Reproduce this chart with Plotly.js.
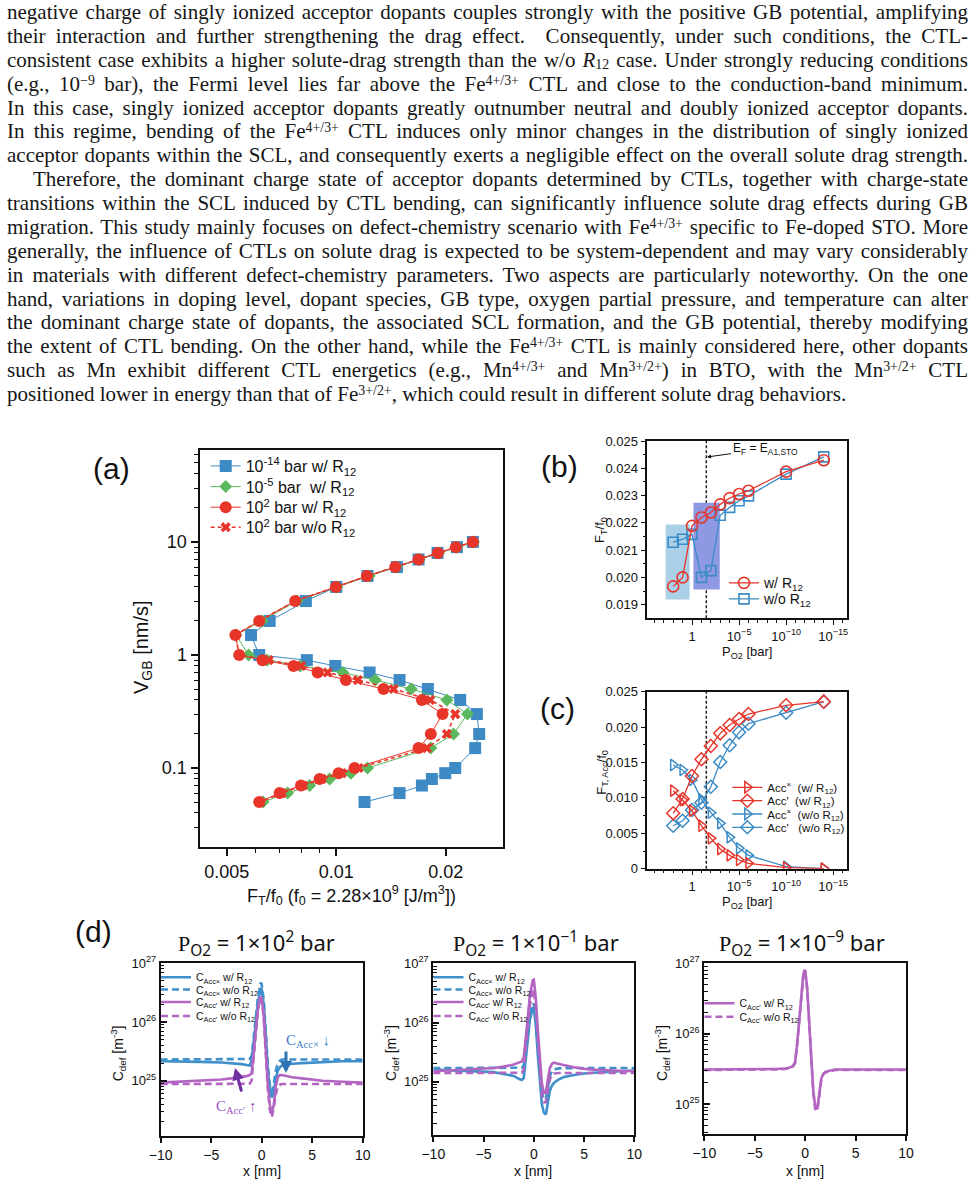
<!DOCTYPE html>
<html><head><meta charset="utf-8">
<script src="https://cdn.plot.ly/plotly-3.0.1.min.js"></script>
<style>
html,body{margin:0;padding:0;background:#fff;}
#wrap{position:relative;width:976px;height:1182px;overflow:hidden;background:#fff;}
#chart{position:absolute;left:0;top:0;width:976px;height:1182px;}
#text{position:absolute;left:7px;top:1px;width:961px;font-family:'Liberation Serif','Times New Roman',serif;font-size:21px;color:#161616;z-index:5;pointer-events:none;}
.ln{height:23.88px;line-height:23.88px;text-align:justify;text-align-last:justify;overflow:visible;}
.last{text-align-last:left;}
.ind{padding-left:26px;}
sup,sub{font-size:66%;line-height:0;}
sup{vertical-align:0.42em;}
sub{vertical-align:-0.14em;}
</style></head>
<body><div id="wrap">
<div id="chart"></div>
<div id="text">
<div class="ln">negative charge of singly ionized acceptor dopants couples strongly with the positive GB potential, amplifying</div>
<div class="ln">their interaction and further strengthening the drag effect. &nbsp;Consequently, under such conditions, the CTL-</div>
<div class="ln">consistent case exhibits a higher solute-drag strength than the w/o <i>R</i><sub>12</sub> case. Under strongly reducing conditions</div>
<div class="ln">(e.g., 10<sup>−9</sup> bar), the Fermi level lies far above the Fe<sup>4+/3+</sup> CTL and close to the conduction-band minimum.</div>
<div class="ln">In this case, singly ionized acceptor dopants greatly outnumber neutral and doubly ionized acceptor dopants.</div>
<div class="ln">In this regime, bending of the Fe<sup>4+/3+</sup> CTL induces only minor changes in the distribution of singly ionized</div>
<div class="ln">acceptor dopants within the SCL, and consequently exerts a negligible effect on the overall solute drag strength.</div>
<div class="ln ind">Therefore, the dominant charge state of acceptor dopants determined by CTLs, together with charge-state</div>
<div class="ln">transitions within the SCL induced by CTL bending, can significantly influence solute drag effects during GB</div>
<div class="ln">migration. This study mainly focuses on defect-chemistry scenario with Fe<sup>4+/3+</sup> specific to Fe-doped STO. More</div>
<div class="ln">generally, the influence of CTLs on solute drag is expected to be system-dependent and may vary considerably</div>
<div class="ln">in materials with different defect-chemistry parameters. Two aspects are particularly noteworthy. On the one</div>
<div class="ln">hand, variations in doping level, dopant species, GB type, oxygen partial pressure, and temperature can alter</div>
<div class="ln">the dominant charge state of dopants, the associated SCL formation, and the GB potential, thereby modifying</div>
<div class="ln">the extent of CTL bending. On the other hand, while the Fe<sup>4+/3+</sup> CTL is mainly considered here, other dopants</div>
<div class="ln">such as Mn exhibit different CTL energetics (e.g., Mn<sup>4+/3+</sup> and Mn<sup>3+/2+</sup>) in BTO, with the Mn<sup>3+/2+</sup> CTL</div>
<div class="ln last">positioned lower in energy than that of Fe<sup>3+/2+</sup>, which could result in different solute drag behaviors.</div>
</div>
</div>
<script>
// ---------------- DATA ----------------
// Panel (a): grain boundary velocity vs drag force
const vGB = [10,9,8,7,6,5,4,3,2,1.5,1,0.9,0.8,0.7,0.6,0.5,0.4,0.3,0.2,0.15,0.1,0.09,0.08,0.07,0.06,0.05];
const fBlue_m14 = [0.02375,0.02147,0.01899,0.01684,0.01468,0.01219,0.0100,0.00825,0.00656,0.00583,0.00614,0.0083,0.00994,0.01235,0.01493,0.01786,0.02192,0.02436,0.02472,0.0241,0.02124,0.01994,0.01832,0.0172,0.01493,0.01196];
const fGreen_m5 = [0.02385,0.02147,0.01911,0.01691,0.01459,0.01232,0.01004,0.0078,0.00625,0.0053,0.00574,0.00645,0.00796,0.01043,0.0128,0.01607,0.02015,0.02296,0.02101,0.0182,0.01219,0.01097,0.00959,0.00845,0.00735,0.00629];
const fRed_p2_w = [0.02375,0.02133,0.01903,0.01684,0.01453,0.01214,0.00998,0.00771,0.00614,0.00528,0.00541,0.00627,0.00763,0.00889,0.01063,0.01349,0.0172,0.0196,0.0182,0.01684,0.01123,0.01015,0.009,0.008,0.00699,0.00614];
const fRed_p2_wo = [0.02375,0.02133,0.01903,0.01684,0.01453,0.01214,0.00998,0.00771,0.00614,0.00528,0.00541,0.00652,0.00801,0.00947,0.01147,0.01438,0.01813,0.02124,0.02015,0.01775,0.01152,0.01036,0.00913,0.0081,0.00709,0.00618];

// Panels (b),(c): log10 of oxygen partial pressure [bar]
const logPO2 = [2,1,0,-1,-2,-3,-4,-5,-6,-10,-14];
const fT_w  = [0.01967,0.0200,0.02189,0.0222,0.02238,0.02268,0.02291,0.02306,0.02318,0.02388,0.0243];
const fT_wo = [0.02129,0.0214,0.02158,0.0200,0.02025,0.02228,0.02257,0.02281,0.02299,0.02379,0.02442];
const accX_w  = [0.01102,0.0097,0.00819,0.00607,0.00429,0.00278,0.00189,0.00123,0.00076,0.00014,0.00002];
const accP_w  = [0.00782,0.00984,0.01309,0.01545,0.01733,0.01912,0.0203,0.02114,0.02185,0.02308,0.02359];
const accX_wo = [0.01465,0.01394,0.01253,0.0098,0.00791,0.00641,0.00443,0.00288,0.00189,0.00028,0.0];
const accP_wo = [0.00607,0.00678,0.00829,0.00932,0.01158,0.01507,0.01743,0.01926,0.02048,0.02203,0.02359];
const tickP = ['1','10<sup>−5</sup>','10<sup>−10</sup>','10<sup>−15</sup>'];

// Panel (d): concentration profiles
const xNm = [-10,-8,-6,-4,-3,-2,-1.5,-1.2,-1,-0.8,-0.6,-0.4,-0.2,-0.1,0,0.2,0.4,0.6,0.8,1,1.2,1.4,1.6,1.8,2,2.5,3,4,5,6,8,10];
const d1_accX_w  = [2.15e25,2.15e25,2.1e25,2.05e25,2.0e25,1.92e25,1.85e25,1.82e25,2.2e25,4e25,9e25,2.0e26,3.5e26,3.8e26,3.6e26,2.0e26,6e25,1.6e25,7e24,5.2e24,6.5e24,1.1e25,1.5e25,1.7e25,1.8e25,1.9e25,1.95e25,2.0e25,2.05e25,2.1e25,2.15e25,2.15e25];
const d1_accX_wo = [2.3e25,2.3e25,2.3e25,2.3e25,2.3e25,2.3e25,2.3e25,2.35e25,2.6e25,5e25,1.1e26,2.4e26,4.3e26,4.7e26,4.4e26,2.4e26,7e25,1.9e25,8.5e24,6.5e24,9e24,1.5e25,2.0e25,2.2e25,2.3e25,2.3e25,2.3e25,2.3e25,2.3e25,2.3e25,2.3e25,2.3e25];
const d1_accP_w  = [9.3e24,9.6e24,1.0e25,1.05e25,1.1e25,1.15e25,1.2e25,1.25e25,1.35e25,3e25,7e25,1.5e26,2.5e26,2.7e26,2.5e26,1.3e26,3.5e25,9e24,4e24,2.8e24,4e24,8e24,1.15e25,1.25e25,1.25e25,1.2e25,1.15e25,1.1e25,1.05e25,1.0e25,9.6e24,9.3e24];
const d1_accP_wo = [8.8e24,8.8e24,8.8e24,8.8e24,8.8e24,8.8e24,8.8e24,8.9e24,1.0e25,2.5e25,6.5e25,1.4e26,2.4e26,2.6e26,2.4e26,1.2e26,3e25,7.5e24,3.2e24,2.4e24,3.5e24,6e24,8e24,8.6e24,8.8e24,8.8e24,8.8e24,8.8e24,8.8e24,8.8e24,8.8e24,8.8e24];
const d2_accX_w  = [1.6e25,1.55e25,1.5e25,1.45e25,1.35e25,1.25e25,1.12e25,1.07e25,1.15e25,2.2e25,5e25,1.1e26,1.6e26,1.75e26,1.8e26,9e25,2.8e25,9e24,4.2e24,3e24,2.8e24,4.5e24,7e24,8.5e24,9.5e24,1.1e25,1.2e25,1.3e25,1.38e25,1.42e25,1.5e25,1.55e25];
const d2_accX_wo = [1.7e25,1.7e25,1.7e25,1.7e25,1.7e25,1.7e25,1.7e25,1.72e25,1.9e25,3.5e25,7e25,1.3e26,1.9e26,2.05e26,2.1e26,1.1e26,4e25,1.4e25,7e24,5e24,5e24,8e24,1.25e25,1.5e25,1.62e25,1.68e25,1.7e25,1.7e25,1.7e25,1.7e25,1.7e25,1.7e25];
const d2_accP_w  = [1.5e25,1.55e25,1.6e25,1.7e25,1.8e25,1.95e25,2.1e25,2.2e25,2.6e25,5e25,1.2e26,2.8e26,4.6e26,5.2e26,5.3e26,2.6e26,7.5e25,2.2e25,9.5e24,6.5e24,6.5e24,1.1e25,1.7e25,2.0e25,2.1e25,2.0e25,1.9e25,1.75e25,1.65e25,1.6e25,1.55e25,1.5e25];
const d2_accP_wo = [1.4e25,1.4e25,1.4e25,1.4e25,1.4e25,1.4e25,1.4e25,1.42e25,1.6e25,3.2e25,8e25,1.9e26,3.2e26,3.5e26,3.6e26,1.8e26,5e25,1.4e25,6e24,4.5e24,4.5e24,7e24,1.1e25,1.3e25,1.38e25,1.4e25,1.4e25,1.4e25,1.4e25,1.4e25,1.4e25,1.4e25];
const d3_accP_w  = [3.1e25,3.1e25,3.1e25,3.1e25,3.15e25,3.2e25,3.3e25,3.5e25,3.9e25,7e25,1.6e26,3.6e26,6.5e26,7.8e26,8.0e26,4.5e26,1.5e26,4.5e25,1.6e25,9e24,8.5e24,1.4e25,2.3e25,2.7e25,2.85e25,3.0e25,3.1e25,3.1e25,3.1e25,3.1e25,3.1e25,3.1e25];
const d3_accP_wo = [3.05e25,3.05e25,3.05e25,3.05e25,3.1e25,3.15e25,3.25e25,3.45e25,3.8e25,6.8e25,1.55e26,3.5e26,6.3e26,7.6e26,7.8e26,4.3e26,1.45e26,4.3e25,1.5e25,8.5e24,8e24,1.3e25,2.2e25,2.65e25,2.8e25,2.95e25,3.05e25,3.05e25,3.05e25,3.05e25,3.05e25,3.05e25];

// ---------------- STYLE / LAYOUT ----------------
const W = 976, H = 1182;
const px = v => v / W, py = v => 1 - v / H;
const FONT = 'Liberation Sans, Arial, Helvetica, sans-serif';
const SERIF = 'Liberation Serif, DejaVu Serif, serif';
const BLUE_A = '#3d8ac4', GREEN_A = '#5cb85c', RED = '#e8352a', BLUE = '#3b8bc6';
const DBLUE = '#3f8fca', PURP = '#b266c2';

function minorLog(lo, hi){ const a=[]; for(let d=lo; d<=hi; d++){ for(let k=2;k<=9;k++) a.push(k*Math.pow(10,d)); } return a; }

function baseAxis(extra){
  return Object.assign({showline:true, linecolor:'#111', mirror:true, showgrid:false, zeroline:false,
    tickcolor:'#111', ticks:'outside'}, extra);
}

function leg(cx, cy, size){
  return {x:px(cx-21), y:py(cy), xanchor:'left', yanchor:'middle', bgcolor:'rgba(0,0,0,0)', borderwidth:0,
    font:{family:FONT, size:size, color:'#111'}, itemwidth:30};
}

const traces = [
  // (a)
  {x:fBlue_m14, y:vGB, xaxis:'x', yaxis:'y', mode:'lines+markers', name:'10<sup>-14</sup> bar w/ R<sub>12</sub>', legend:'legend',
   line:{color:BLUE_A, width:1}, marker:{symbol:'square', size:12, color:BLUE_A}},
  {x:fGreen_m5, y:vGB, xaxis:'x', yaxis:'y', mode:'lines+markers', name:'10<sup>-5</sup> bar  w/ R<sub>12</sub>', legend:'legend2',
   line:{color:GREEN_A, width:1}, marker:{symbol:'diamond', size:10, color:GREEN_A}},
  {x:fRed_p2_wo, y:vGB, xaxis:'x', yaxis:'y', mode:'lines+markers', name:'10<sup>2</sup> bar w/o R<sub>12</sub>', legend:'legend4',
   line:{color:RED, width:1.6, dash:'4px,3px'}, marker:{symbol:'x', size:9, color:RED}},
  {x:fRed_p2_w, y:vGB, xaxis:'x', yaxis:'y', mode:'lines+markers', name:'10<sup>2</sup> bar w/ R<sub>12</sub>', legend:'legend3',
   line:{color:RED, width:1}, marker:{symbol:'circle', size:12, color:RED}},
  // (b)
  {x:logPO2, y:fT_wo, xaxis:'x2', yaxis:'y2', mode:'lines+markers', name:'w/o R<sub>12</sub>', legend:'legend6',
   line:{color:BLUE, width:1.3}, marker:{symbol:'square-open', size:10, color:BLUE, line:{width:1.6}}},
  {x:logPO2, y:fT_w, xaxis:'x2', yaxis:'y2', mode:'lines+markers', name:'w/ R<sub>12</sub>', legend:'legend5',
   line:{color:RED, width:1.3}, marker:{symbol:'circle-open', size:11, color:RED, line:{width:1.6}}},
  // (c)
  {x:logPO2, y:accX_wo, xaxis:'x3', yaxis:'y3', mode:'lines+markers', name:'Acc<sup>×</sup>  (w/o R<sub>12</sub>)', legend:'legend9',
   line:{color:BLUE, width:1.3}, marker:{symbol:'triangle-right-open', size:10, color:BLUE, line:{width:1.5}}},
  {x:logPO2, y:accP_wo, xaxis:'x3', yaxis:'y3', mode:'lines+markers', name:'Acc\'   (w/o R<sub>12</sub>)', legend:'legend10',
   line:{color:BLUE, width:1.3}, marker:{symbol:'diamond-open', size:10, color:BLUE, line:{width:1.5}}},
  {x:logPO2, y:accX_w, xaxis:'x3', yaxis:'y3', mode:'lines+markers', name:'Acc<sup>×</sup>  (w/ R<sub>12</sub>)', legend:'legend7',
   line:{color:RED, width:1.3}, marker:{symbol:'triangle-right-open', size:10, color:RED, line:{width:1.5}}},
  {x:logPO2, y:accP_w, xaxis:'x3', yaxis:'y3', mode:'lines+markers', name:'Acc\'  (w/ R<sub>12</sub>)', legend:'legend8',
   line:{color:RED, width:1.3}, marker:{symbol:'diamond-open', size:10, color:RED, line:{width:1.5}}},
  // (d1)
  {x:xNm, y:d1_accX_w, xaxis:'x4', yaxis:'y4', mode:'lines', name:'C<sub>Acc×</sub> w/ R<sub>12</sub>', legend:'legend11', line:{color:DBLUE, width:2.6}},
  {x:xNm, y:d1_accX_wo, xaxis:'x4', yaxis:'y4', mode:'lines', name:'C<sub>Acc×</sub> w/o R<sub>12</sub>', legend:'legend12', line:{color:DBLUE, width:2.6, dash:'7px,4px'}},
  {x:xNm, y:d1_accP_w, xaxis:'x4', yaxis:'y4', mode:'lines', name:'C<sub>Acc′</sub> w/ R<sub>12</sub>', legend:'legend13', line:{color:PURP, width:2.6}},
  {x:xNm, y:d1_accP_wo, xaxis:'x4', yaxis:'y4', mode:'lines', name:'C<sub>Acc′</sub> w/o R<sub>12</sub>', legend:'legend14', line:{color:PURP, width:2.6, dash:'7px,4px'}},
  // (d2)
  {x:xNm, y:d2_accX_w, xaxis:'x5', yaxis:'y5', mode:'lines', name:'C<sub>Acc×</sub> w/ R<sub>12</sub>', legend:'legend15', line:{color:DBLUE, width:2.6}},
  {x:xNm, y:d2_accX_wo, xaxis:'x5', yaxis:'y5', mode:'lines', name:'C<sub>Acc×</sub> w/o R<sub>12</sub>', legend:'legend16', line:{color:DBLUE, width:2.6, dash:'7px,4px'}},
  {x:xNm, y:d2_accP_w, xaxis:'x5', yaxis:'y5', mode:'lines', name:'C<sub>Acc′</sub> w/ R<sub>12</sub>', legend:'legend17', line:{color:PURP, width:2.6}},
  {x:xNm, y:d2_accP_wo, xaxis:'x5', yaxis:'y5', mode:'lines', name:'C<sub>Acc′</sub> w/o R<sub>12</sub>', legend:'legend18', line:{color:PURP, width:2.6, dash:'7px,4px'}},
  // (d3)
  {x:xNm, y:d3_accP_w, xaxis:'x6', yaxis:'y6', mode:'lines', name:'C<sub>Acc′</sub> w/ R<sub>12</sub>', legend:'legend19', line:{color:PURP, width:2.6}},
  {x:xNm, y:d3_accP_wo, xaxis:'x6', yaxis:'y6', mode:'lines', name:'C<sub>Acc′</sub> w/o R<sub>12</sub>', legend:'legend20', line:{color:PURP, width:2.6, dash:'7px,4px'}}
];

const tfA = {family:FONT, size:18, color:'#111'};
const tfB = {family:FONT, size:13, color:'#111'};
const tfD = {family:FONT, size:14, color:'#111'};

function dX(x0, x1, anchor){
  return baseAxis({domain:[px(x0), px(x1)], anchor:anchor, range:[-10,10], tickvals:[-10,-5,0,5,10],
    ticktext:['−10','−5','0','5','10'], ticklen:5, tickwidth:1.5, linewidth:2, tickfont:tfD});
}
function dY(y0, y1, anchor, lo){
  return baseAxis({domain:[py(y1), py(y0)], anchor:anchor, type:'log', range:[lo, 27],
    tickvals:[1e25,1e26,1e27], ticktext:['10<sup>25</sup>','10<sup>26</sup>','10<sup>27</sup>'],
    ticks:'inside', ticklen:6, tickwidth:1.5, linewidth:2, tickfont:{family:FONT, size:13, color:'#111'},
    minor:{tickvals:minorLog(24,26), ticks:'inside', ticklen:3.5, tickwidth:1.2, tickcolor:'#111'}});
}

const layout = {
  width:W, height:H, margin:{l:0,r:0,t:0,b:0}, paper_bgcolor:'#fff', plot_bgcolor:'#fff',
  font:{family:FONT, color:'#111'},
  showlegend:true,
  // (a)
  xaxis: baseAxis({domain:[px(199.5), px(503)], anchor:'y', type:'log', range:[-2.376, -1.5415],
    tickvals:[0.005,0.01,0.02], ticktext:['0.005','0.01','0.02'], ticklen:7, tickwidth:1.5, linewidth:2, tickfont:tfA,
    minor:{tickvals:[0.006,0.007,0.008,0.009], ticks:'outside', ticklen:4, tickwidth:1.2, tickcolor:'#111'}}),
  yaxis: baseAxis({domain:[py(847), py(450)], anchor:'x', type:'log', range:[-1.699, 1.8137],
    tickvals:[0.1,1,10], ticktext:['0.1','1','10'], ticklen:7, tickwidth:1.5, linewidth:2, tickfont:tfA,
    minor:{tickvals:[0.03,0.04,0.05,0.06,0.07,0.08,0.09,0.2,0.3,0.4,0.5,0.6,0.7,0.8,0.9,2,3,4,5,6,7,8,9,20,30,40,50,60], ticks:'outside', ticklen:4, tickwidth:1.2, tickcolor:'#111'}}),
  // (b)
  xaxis2: baseAxis({domain:[px(647.3), px(847.3)], anchor:'y2', range:[4.75,-16.5], tickvals:[0,-5,-10,-15], ticktext:tickP,
    ticklen:5, tickwidth:1.2, linewidth:1.5, tickfont:tfB,
    minor:{tickvals:[4,3,2,1,-1,-2,-3,-4,-6,-7,-8,-9,-11,-12,-13,-14,-16], ticks:'outside', ticklen:3, tickwidth:1, tickcolor:'#111'}}),
  yaxis2: baseAxis({domain:[py(618.3), py(441.1)], anchor:'x2', range:[0.0185,0.025],
    tickvals:[0.019,0.020,0.021,0.022,0.023,0.024,0.025], ticktext:['0.019','0.020','0.021','0.022','0.023','0.024','0.025'],
    ticklen:5, tickwidth:1.2, linewidth:1.5, tickfont:tfB,
    minor:{tickvals:[0.0195,0.0205,0.0215,0.0225,0.0235,0.0245], ticks:'outside', ticklen:3, tickwidth:1, tickcolor:'#111'}}),
  // (c)
  xaxis3: baseAxis({domain:[px(647.3), px(847.3)], anchor:'y3', range:[4.75,-16.5], tickvals:[0,-5,-10,-15], ticktext:tickP,
    ticklen:5, tickwidth:1.2, linewidth:1.5, tickfont:tfB,
    minor:{tickvals:[4,3,2,1,-1,-2,-3,-4,-6,-7,-8,-9,-11,-12,-13,-14,-16], ticks:'outside', ticklen:3, tickwidth:1, tickcolor:'#111'}}),
  yaxis3: baseAxis({domain:[py(868.7), py(691.7)], anchor:'x3', range:[0,0.025],
    tickvals:[0,0.005,0.010,0.015,0.020,0.025], ticktext:['0','0.005','0.010','0.015','0.020','0.025'],
    ticklen:5, tickwidth:1.2, linewidth:1.5, tickfont:tfB,
    minor:{tickvals:[0.0025,0.0075,0.0125,0.0175,0.0225], ticks:'outside', ticklen:3, tickwidth:1, tickcolor:'#111'}}),
  // (d)
  xaxis4: dX(160.7, 362.7, 'y4'), yaxis4: dY(963.3, 1136, 'x4', 24.06),
  xaxis5: dX(433.3, 634.3, 'y5'), yaxis5: dY(963.3, 1135, 'x5', 24.1),
  xaxis6: dX(704.3, 906, 'y6'),   yaxis6: dY(963.3, 1134.3, 'x6', 24.57),
  // legends (one entry each, placed like the reference)
  legend: leg(226.7, 466, 16), legend2: leg(226.7, 486.7, 16), legend3: leg(226.7, 507.3, 16), legend4: leg(226.7, 527.3, 16),
  legend5: leg(745, 583.3, 14), legend6: leg(745, 599.3, 14),
  legend7: leg(748.3, 787.3, 11.5), legend8: leg(748.3, 800.7, 11.5), legend9: leg(748.3, 814, 11.5), legend10: leg(748.3, 827.3, 11.5),
  legend11: leg(177, 977.3, 10.5), legend12: leg(177, 989.5, 10.5), legend13: leg(177, 1002, 10.5), legend14: leg(177, 1016, 10.5),
  legend15: leg(449.5, 977.3, 10.5), legend16: leg(449.5, 989.5, 10.5), legend17: leg(449.5, 1002, 10.5), legend18: leg(449.5, 1016, 10.5),
  legend19: leg(720.5, 1003.3, 10.5), legend20: leg(720.5, 1016.7, 10.5),
  shapes: [
    {type:'rect', xref:'x2', yref:'y2', x0:2.8, x1:0.25, y0:0.01919, y1:0.02194, fillcolor:'#a9d0e6', line:{width:0}, layer:'below'},
    {type:'rect', xref:'x2', yref:'y2', x0:-0.15, x1:-2.95, y0:0.01956, y1:0.02274, fillcolor:'#8f98e3', line:{width:0}, layer:'below'},
    {type:'line', xref:'x2', yref:'paper', x0:-1.52, x1:-1.52, y0:py(618.3), y1:py(441.1), line:{color:'#222', width:1.5, dash:'3px,2px'}, layer:'below'},
    {type:'line', xref:'x3', yref:'paper', x0:-1.52, x1:-1.52, y0:py(868.7), y1:py(691.7), line:{color:'#222', width:1.5, dash:'3px,2px'}, layer:'below'}
  ],
  annotations: []
};

function ann(text, x, y, size, opts){
  return Object.assign({text:text, xref:'paper', yref:'paper', x:px(x), y:py(y), showarrow:false,
    xanchor:'center', yanchor:'middle', font:{family:FONT, size:size, color:'#111'}}, opts||{});
}
const A = layout.annotations;
A.push(ann('(a)', 111, 468, 30), ann('(b)', 559, 466, 30), ann('(c)', 557, 708, 30), ann('(d)', 93, 931, 30));
A.push(ann('F<sub>T</sub>/f<sub>0</sub> (f<sub>0</sub> = 2.28×10<sup>9</sup> [J/m<sup>3</sup>])', 351, 895, 18));
A.push(ann('V<sub>GB</sub> [nm/s]', 142, 647, 20, {textangle:-90}));
A.push(ann('P<sub>O2</sub> [bar]', 746.7, 652, 13));
A.push(ann('F<sub>T</sub>/f<sub>0</sub>', 600, 530, 13, {textangle:-90}));
A.push(ann('P<sub>O2</sub> [bar]', 746.7, 902, 13));
A.push(ann('F<sub>T, Acc</sub>/f<sub>0</sub>', 601.7, 772, 13, {textangle:-90}));
[[261.7,118.3],[533.3,391],[805,662]].forEach(([cx, cyl]) => {
  A.push(ann('x [nm]', cx, 1171, 14));
  A.push(ann('C<sub>def</sub> [m<sup>-3</sup>]', cyl, 1053, 14, {textangle:-90}));
});
const titleF = {family:'Noto Sans, DejaVu Sans, sans-serif', size:22, color:'#111'};
A.push(ann('<span style="font-family:Liberation Serif">P</span><sub>O2</sub> = 1×10<sup>2</sup> bar', 256.7, 943, 22, {font:titleF}));
A.push(ann('<span style="font-family:Liberation Serif">P</span><sub>O2</sub> = 1×10<sup>−1</sup> bar', 535.7, 943, 22, {font:titleF}));
A.push(ann('<span style="font-family:Liberation Serif">P</span><sub>O2</sub> = 1×10<sup>−9</sup> bar', 801.7, 943, 22, {font:titleF}));
// E_F arrow in (b)
A.push({text:'E<sub>F</sub> = E<sub>A1,STO</sub>', xref:'paper', yref:'paper', x:px(707), y:py(457), showarrow:true,
  ax:58, ay:-8, arrowhead:2, arrowsize:0.8, arrowwidth:1, arrowcolor:'#111', font:{family:FONT, size:12, color:'#111'}});
// (d1) arrows
A.push({text:'', xref:'paper', yref:'paper', x:px(286), y:py(1073), showarrow:true, ax:0, ay:-23,
  arrowhead:2, arrowsize:0.8, arrowwidth:3, arrowcolor:'#2e74b5'});
A.push(ann('C<sub>Acc×</sub> ↓', 308, 1041, 15, {font:{family:SERIF, size:15, color:'#3a82c4'}}));
A.push({text:'', xref:'paper', yref:'paper', x:px(235), y:py(1068), showarrow:true, ax:7, ay:25,
  arrowhead:2, arrowsize:0.8, arrowwidth:3, arrowcolor:'#7030a0'});
A.push(ann('C<sub>Acc′</sub> ↑', 236, 1107, 15, {font:{family:SERIF, size:15, color:'#9b4fc0'}}));

Plotly.newPlot('chart', traces, layout, {displayModeBar:false, responsive:false});
</script>
</body></html>
